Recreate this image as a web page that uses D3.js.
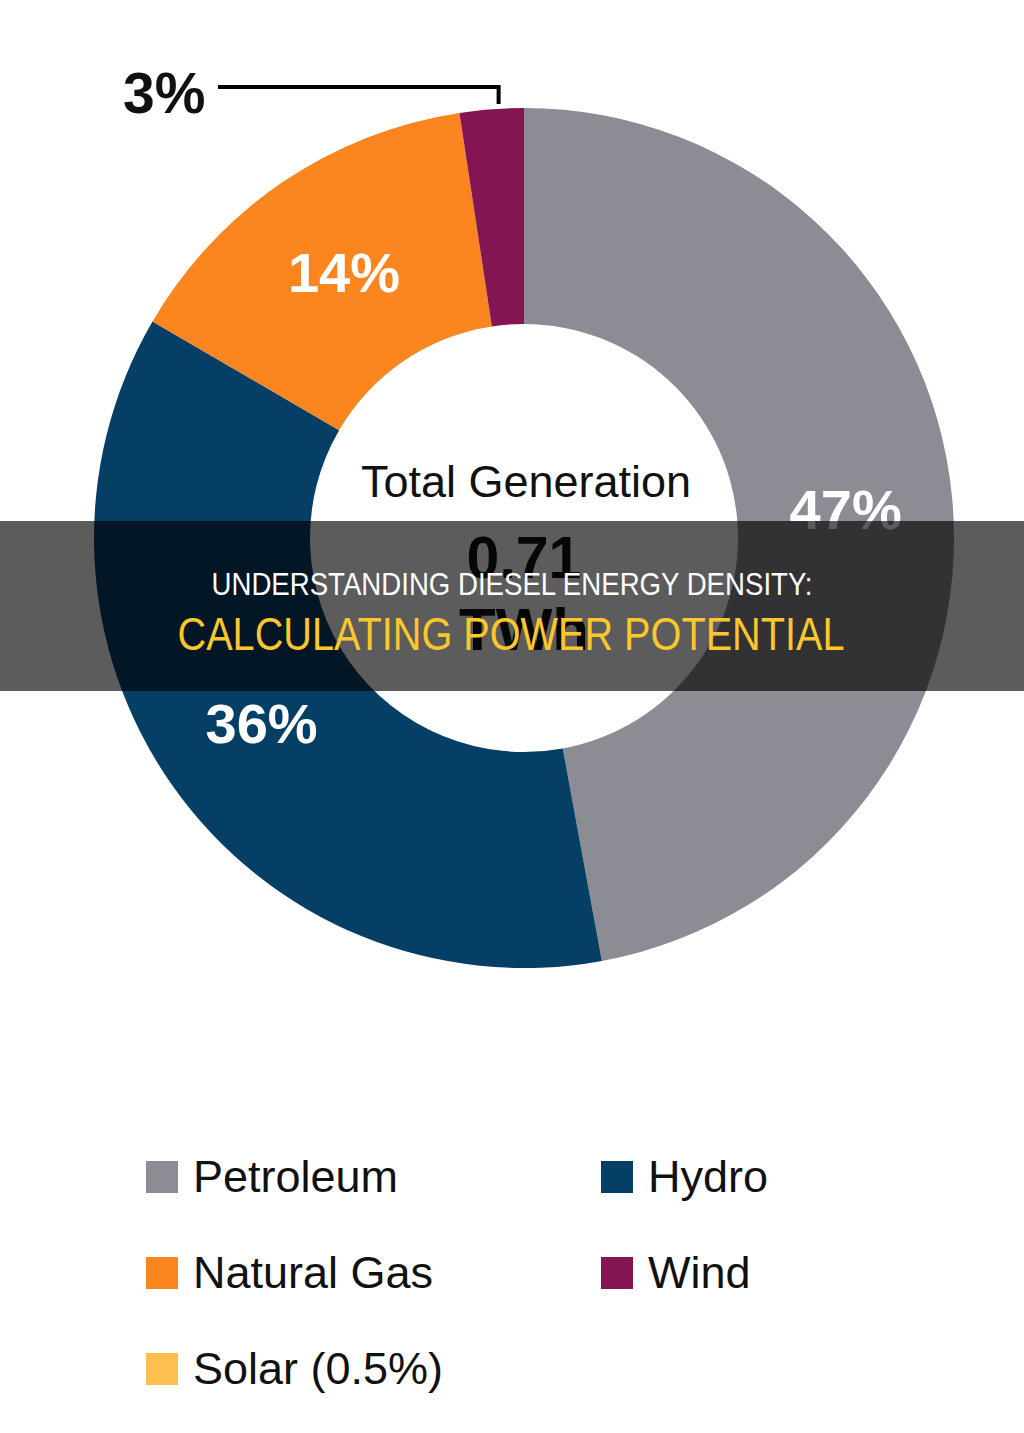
<!DOCTYPE html>
<html>
<head>
<meta charset="utf-8">
<script src="https://cdn.jsdelivr.net/npm/d3@7"></script>
<style>
  html, body { margin: 0; padding: 0; background: #ffffff; }
  svg { display: block; }
</style>
</head>
<body>
<script>
// ---- data ----
const categories = ["Petroleum", "Hydro", "Natural Gas", "Wind"];
const shares = [47.1, 36.3, 14.2, 2.4];
const shareLabels = ["47%", "36%", "14%", "3%"];
const colors = ["#8c8c94", "#063f66", "#fb8620", "#831552"];
const legendNames = ["Petroleum", "Hydro", "Natural Gas", "Wind", "Solar (0.5%)"];
const legendColors = ["#8c8c94", "#063f66", "#fb8620", "#831552", "#fdc04f"];
const centerLines = ["Total Generation", "0.71", "TWh"];
const bannerLines = ["UNDERSTANDING DIESEL ENERGY DENSITY:", "CALCULATING POWER POTENTIAL"];

const W = 1024, H = 1433;
const cx = 524, cy = 538, R = 430, r0 = 214;

const svg = d3.select("body").append("svg")
  .attr("width", W).attr("height", H)
  .style("font-family", "'Liberation Sans', Arial, sans-serif");

svg.append("rect").attr("width", W).attr("height", H).attr("fill", "#ffffff");

const data = categories.map((c, i) => ({ name: c, value: shares[i], label: shareLabels[i], color: colors[i] }));
const pie = d3.pie().sort(null).value(d => d.value);
const arcs = pie(data);
const arc = d3.arc().innerRadius(r0).outerRadius(R);

const g = svg.append("g").attr("transform", `translate(${cx},${cy})`);

g.selectAll("path.slice").data(arcs).enter().append("path")
  .attr("class", "slice")
  .attr("d", arc)
  .attr("fill", d => d.data.color);

// inside labels (all but small wind slice)
g.selectAll("text.pct").data(arcs.filter(d => d.data.value > 5)).enter().append("text")
  .attr("class", "pct")
  .attr("x", d => arc.centroid(d)[0] + 1)
  .attr("y", d => arc.centroid(d)[1] + 20)
  .attr("text-anchor", "middle")
  .attr("fill", "#ffffff")
  .attr("font-weight", "bold")
  .attr("font-size", 56)
  .text(d => d.data.label);

// external label for wind with callout
const wind = arcs[3];
const midA = (wind.startAngle + wind.endAngle) / 2;
const lx = cx + Math.sin(midA) * R + 7;
svg.append("path")
  .attr("d", `M218,87 H${lx} V104`)
  .attr("fill", "none")
  .attr("stroke", "#000")
  .attr("stroke-width", 4);
svg.append("text")
  .attr("x", 123).attr("y", 113)
  .attr("font-weight", "bold").attr("font-size", 57)
  .attr("fill", "#111")
  .text(wind.data.label);

// center text
svg.append("text").attr("x", 526).attr("y", 497)
  .attr("text-anchor", "middle").attr("font-size", 45).attr("fill", "#111")
  .text(centerLines[0]);
svg.append("text").attr("x", 524).attr("y", 578)
  .attr("text-anchor", "middle").attr("font-size", 59).attr("font-weight", "bold").attr("fill", "#111")
  .text(centerLines[1]);
svg.append("text").attr("x", 524).attr("y", 650)
  .attr("text-anchor", "middle").attr("font-size", 60).attr("font-weight", "bold").attr("fill", "#111")
  .text(centerLines[2]);

// legend
const legendPos = [[146, 1177], [601, 1177], [146, 1273], [601, 1273], [146, 1369]];
const lg = svg.append("g");
legendNames.forEach((n, i) => {
  const [x, y] = legendPos[i];
  lg.append("rect").attr("x", x).attr("y", y - 16).attr("width", 32).attr("height", 32)
    .attr("fill", legendColors[i]);
  lg.append("text").attr("x", x + 47).attr("y", y + 15)
    .attr("font-size", 45).attr("fill", "#111").text(n);
});

// banner overlay
svg.append("rect").attr("x", 0).attr("y", 521).attr("width", W).attr("height", 170)
  .attr("fill", "#000").attr("fill-opacity", 0.64);
svg.append("text").attr("x", 512).attr("y", 595)
  .attr("text-anchor", "middle").attr("font-size", 31).attr("fill", "#ffffff")
  .attr("font-family", "'Liberation Sans Narrow', 'Liberation Sans', Arial, sans-serif")
  .attr("textLength", 601).attr("lengthAdjust", "spacingAndGlyphs")
  .text(bannerLines[0]);
svg.append("text").attr("x", 511).attr("y", 650)
  .attr("text-anchor", "middle").attr("font-size", 46).attr("fill", "#fcc62d")
  .attr("font-family", "'Liberation Sans Narrow', 'Liberation Sans', Arial, sans-serif")
  .attr("textLength", 667).attr("lengthAdjust", "spacingAndGlyphs")
  .text(bannerLines[1]);
</script>
</body>
</html>
